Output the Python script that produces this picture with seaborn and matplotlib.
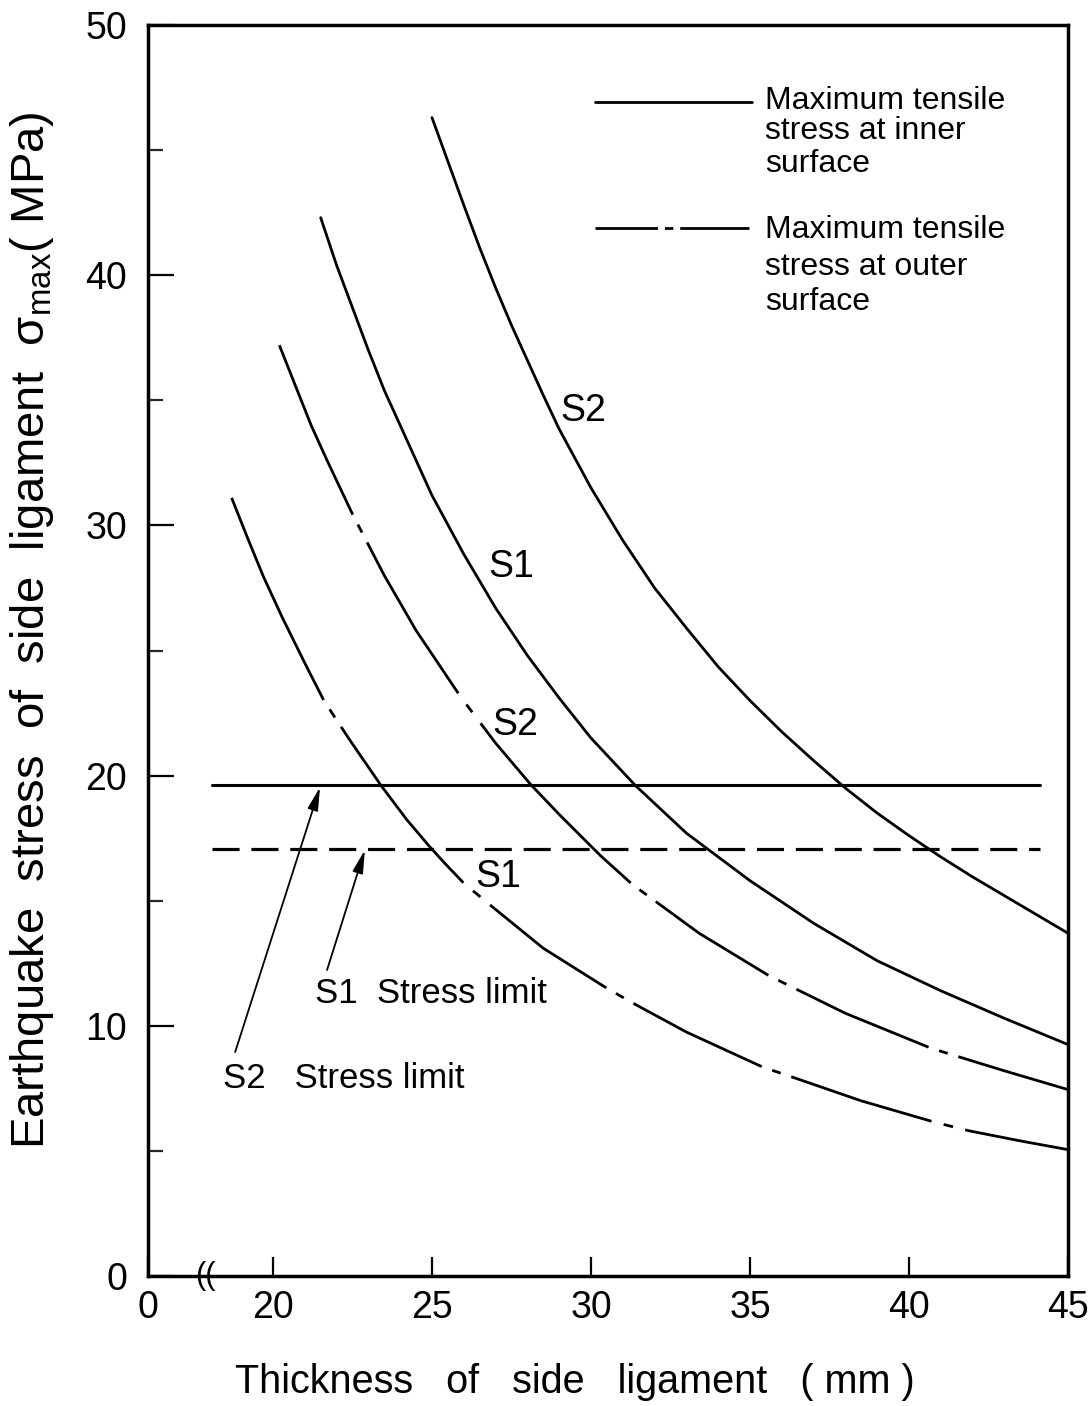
import matplotlib
matplotlib.use("Agg")
import matplotlib.pyplot as plt
import numpy as np
import pandas as pd
import seaborn as sns

# ---------------- data ----------------
# S2 stress, inner surface (solid)
s2_inner_x = [25.0, 25.5, 26.0, 26.5, 27.0, 27.5, 28.0, 28.5, 29.0, 30.0, 31.0, 32.0, 33.0,
              34.0, 35.0, 36.0, 37.0, 38.0, 39.0, 40.0, 41.0, 42.0, 43.0, 44.0, 45.0]
s2_inner_y = [46.3, 44.55, 42.8, 41.1, 39.5, 38.0, 36.6, 35.2, 33.85, 31.5, 29.4, 27.5, 25.9,
              24.35, 23.0, 21.75, 20.6, 19.5, 18.5, 17.6, 16.75, 15.95, 15.2, 14.45, 13.7]
# S1 stress, inner surface (solid)
s1_inner_x = [21.5, 22.0, 22.5, 23.0, 23.5, 24.0, 25.0, 26.0, 27.0, 28.0, 29.0, 30.0, 31.4,
              33.0, 35.0, 37.0, 39.0, 41.0, 43.0, 45.0]
s1_inner_y = [42.3, 40.4, 38.7, 37.0, 35.4, 34.0, 31.2, 28.85, 26.7, 24.8, 23.1, 21.5, 19.6,
              17.7, 15.8, 14.1, 12.6, 11.4, 10.3, 9.25]
# S2 stress, outer surface (dash-dot)
s2_outer_x = [20.2, 20.7, 21.2, 21.7, 22.5, 23.5, 24.5, 25.9, 27.0, 28.1, 29.0, 30.3, 31.3,
              33.4, 35.6, 38.0, 40.7, 43.0, 45.0]
s2_outer_y = [37.2, 35.6, 34.0, 32.6, 30.45, 28.0, 25.8, 23.15, 21.3, 19.65, 18.45, 16.8, 15.65,
              13.7, 12.0, 10.5, 9.1, 8.2, 7.45]
# S1 stress, outer surface (dash-dot)
s1_outer_x = [18.7, 19.2, 19.7, 20.3, 21.0, 21.6, 22.4, 23.4, 24.2, 24.9, 25.4, 26.0, 27.0,
              28.5, 30.5, 31.4, 33.0, 35.4, 36.4, 38.5, 40.8, 41.9, 43.5, 45.0]
s1_outer_y = [31.1, 29.5, 27.95, 26.3, 24.5, 23.0, 21.45, 19.6, 18.25, 17.2, 16.5, 15.7, 14.65,
              13.1, 11.5, 10.85, 9.75, 8.35, 7.92, 7.0, 6.15, 5.8, 5.4, 5.05]

# stress limits
limit_x = [18.08, 44.12]
s2_limit = 19.64
s1_limit = 17.07

# axis ticks (left edge of the broken axis is labelled 0)
x_left = 16.07
x_ticks = [x_left, 20, 25, 30, 35, 40, 45]
x_tick_labels = ["0", "20", "25", "30", "35", "40", "45"]
y_ticks = [0, 10, 20, 30, 40, 50]
y_tick_labels = ["0", "10", "20", "30", "40", "50"]
y_minor = [5, 15, 25, 35, 45]

legend_inner = ["Maximum tensile", "stress at inner", "surface"]
legend_outer = ["Maximum tensile", "stress at outer", "surface"]

# ---------------- style ----------------
sns.set_theme(style="white")
plt.rcParams["font.family"] = ["Liberation Sans", "DejaVu Sans"]
plt.rcParams["lines.scale_dashes"] = False
plt.rcParams["mathtext.fontset"] = "custom"
plt.rcParams["mathtext.rm"] = "Liberation Sans"
plt.rcParams["mathtext.it"] = "Liberation Sans:italic"
plt.rcParams["text.color"] = "black"

fig = plt.figure(figsize=(10.92, 14.06), dpi=100)
fig.patch.set_facecolor("white")
ax = fig.add_axes([148 / 1092, 130 / 1406, 920 / 1092, 1251 / 1406])
ax.set_facecolor("white")

dashdot_c = (0, (133, 8, 6.5, 8, 127, 10, 7, 10, 158, 8, 6.5, 8, 97, 8, 6.5, 8, 104, 8, 6.5, 8, 300, 1))
dashdot_d = (0, (160, 8, 7, 8, 143, 9, 7, 9, 103, 8, 6.5, 8, 103, 8, 6.5, 8, 106, 9, 7, 9, 300, 1))

curves = [
    (s2_inner_x, s2_inner_y, "-"),
    (s1_inner_x, s1_inner_y, "-"),
    (s2_outer_x, s2_outer_y, dashdot_c),
    (s1_outer_x, s1_outer_y, dashdot_d),
]
for cx, cy, ls in curves:
    df = pd.DataFrame({"x": cx, "y": cy})
    sns.lineplot(data=df, x="x", y="y", ax=ax, color="black", lw=2.0,
                 linestyle=ls, errorbar=None, legend=False, sort=True,
                 solid_joinstyle="round")

# stress limit lines
lim_df = pd.DataFrame({"x": limit_x * 2,
                       "y": [s2_limit, s2_limit, s1_limit, s1_limit],
                       "which": ["S2", "S2", "S1", "S1"]})
sns.lineplot(data=lim_df[lim_df.which == "S2"], x="x", y="y", ax=ax,
             color="black", lw=2.2, errorbar=None, legend=False)
sns.lineplot(data=lim_df[lim_df.which == "S1"], x="x", y="y", ax=ax,
             color="black", lw=2.3, linestyle=(0, (19.5, 8.5)),
             errorbar=None, legend=False)

# axes
ax.set_xlim(x_left, 45)
ax.set_ylim(0, 50)
ax.set_xticks(x_ticks)
ax.set_xticklabels(x_tick_labels)
ax.set_yticks(y_ticks)
ax.set_yticklabels(y_tick_labels)
ax.set_yticks(y_minor, minor=True)
ax.set_xlabel("")
ax.set_ylabel("")
for sp in ax.spines.values():
    sp.set_visible(True)
    sp.set_linewidth(2.5)
    sp.set_color("black")
ax.tick_params(axis="y", which="major", direction="in", length=19, width=1.6,
               pad=15, labelsize=27, left=True, right=False, colors="black")
ax.tick_params(axis="y", which="minor", direction="in", length=11, width=1.6,
               left=True, right=False)
ax.tick_params(axis="x", which="major", direction="in", length=14, width=1.6,
               pad=10, labelsize=27, bottom=True, top=False, colors="black")
ax.grid(False)

# axis break mark
ax.text(17.86, 0, "((", fontsize=22, ha="center", va="center", clip_on=False)

# curve labels
ax.text(29.03, 34.17, "S2", fontsize=27, ha="left", va="baseline")
ax.text(26.76, 27.94, "S1", fontsize=27, ha="left", va="baseline")
ax.text(26.89, 21.62, "S2", fontsize=27, ha="left", va="baseline")
ax.text(26.35, 15.55, "S1", fontsize=27, ha="left", va="baseline")

# stress limit annotations
ax.text(21.32, 10.91, "S1  Stress limit", fontsize=25, ha="left", va="baseline")
ax.text(18.43, 7.51, "S2   Stress limit", fontsize=25, ha="left", va="baseline")
arrow_kw = dict(arrowstyle="-|>,head_length=0.7,head_width=0.16",
                color="black", lw=1.3, mutation_scale=20, shrinkA=0, shrinkB=0)
ax.annotate("", xy=(21.48, 19.54), xytext=(18.81, 8.95), arrowprops=arrow_kw)
ax.annotate("", xy=(22.89, 17.03), xytext=(21.70, 12.23), arrowprops=arrow_kw)

# legend (drawn manually like the original)
ax.plot([30.13, 35.06], [46.92, 46.92], color="black", lw=2.0)
ax.plot([30.13, 34.97], [41.89, 41.89], color="black", lw=2.0,
        linestyle=(0, (45, 5, 6, 5, 60, 1)))
for line, yb in zip(legend_inner, [46.64, 45.44, 44.12]):
    ax.text(35.47, yb, line, fontsize=23, ha="left", va="baseline")
for line, yb in zip(legend_outer, [41.49, 40.02, 38.62]):
    ax.text(35.47, yb, line, fontsize=23, ha="left", va="baseline")

# axis titles
fig.text(575 / 1092, 1 - 1393 / 1406, "Thickness   of   side   ligament   ( mm )",
         fontsize=28.5, ha="center", va="baseline")
fig.text(32 / 1092, 1 - 630 / 1406,
         "Earthquake  stress  of  side  ligament  σ$_{\\rm max}$( MPa)",
         fontsize=34, rotation=90, ha="center", va="center")

fig.savefig("out.png", dpi=100, facecolor="white")
